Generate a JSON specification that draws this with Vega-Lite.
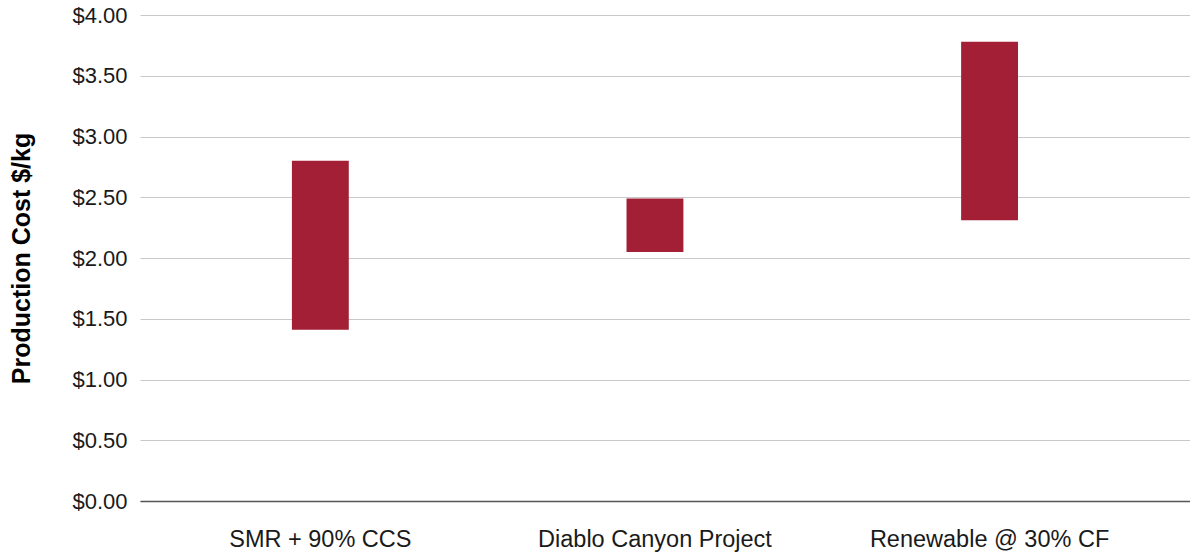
{
  "$schema": "https://vega.github.io/schema/vega-lite/v6.json",
  "autosize": {"type": "none"},
  "width": 1050,
  "height": 486,
  "padding": {"left": 140, "top": 15, "right": 0, "bottom": 52},
  "background": "white",
  "config": {"view": {"stroke": null}, "font": "Liberation Sans"},
  "data": {
    "values": [
      {"option": "SMR + 90% CCS", "low": 1.41, "high": 2.80},
      {"option": "Diablo Canyon Project", "low": 2.05, "high": 2.49},
      {"option": "Renewable @ 30% CF", "low": 2.31, "high": 3.78}
    ]
  },
  "mark": {"type": "bar", "color": "#A21F35"},
  "encoding": {
    "x": {
      "field": "option",
      "type": "nominal",
      "sort": null,
      "scale": {"paddingInner": 0.83, "paddingOuter": 0.484, "align": 0.469},
      "axis": {
        "title": null,
        "labelAngle": 0,
        "labelLimit": 0,
        "labelFont": "Liberation Sans",
        "labelFontSize": 23.5,
        "labelColor": "#1a1a1a",
        "labelPadding": 26,
        "ticks": false,
        "domain": true,
        "domainColor": "#555555",
        "domainWidth": 1.5,
        "grid": false
      }
    },
    "y": {
      "field": "low",
      "type": "quantitative",
      "scale": {"domain": [0, 4], "nice": false},
      "axis": {
        "title": "Production Cost $/kg",
        "titleFont": "Liberation Sans",
        "titleFontSize": 25,
        "titleFontWeight": "bold",
        "titleColor": "#000000",
        "titleX": -106,
        "titleY": 243,
        "format": "$.2f",
        "values": [0, 0.5, 1, 1.5, 2, 2.5, 3, 3.5, 4],
        "labelFont": "Liberation Sans",
        "labelFontSize": 22,
        "labelColor": "#1a1a1a",
        "labelPadding": 13,
        "ticks": false,
        "domain": false,
        "grid": true,
        "gridColor": "#c8c8c8",
        "gridWidth": 1
      }
    },
    "y2": {"field": "high"}
  }
}
